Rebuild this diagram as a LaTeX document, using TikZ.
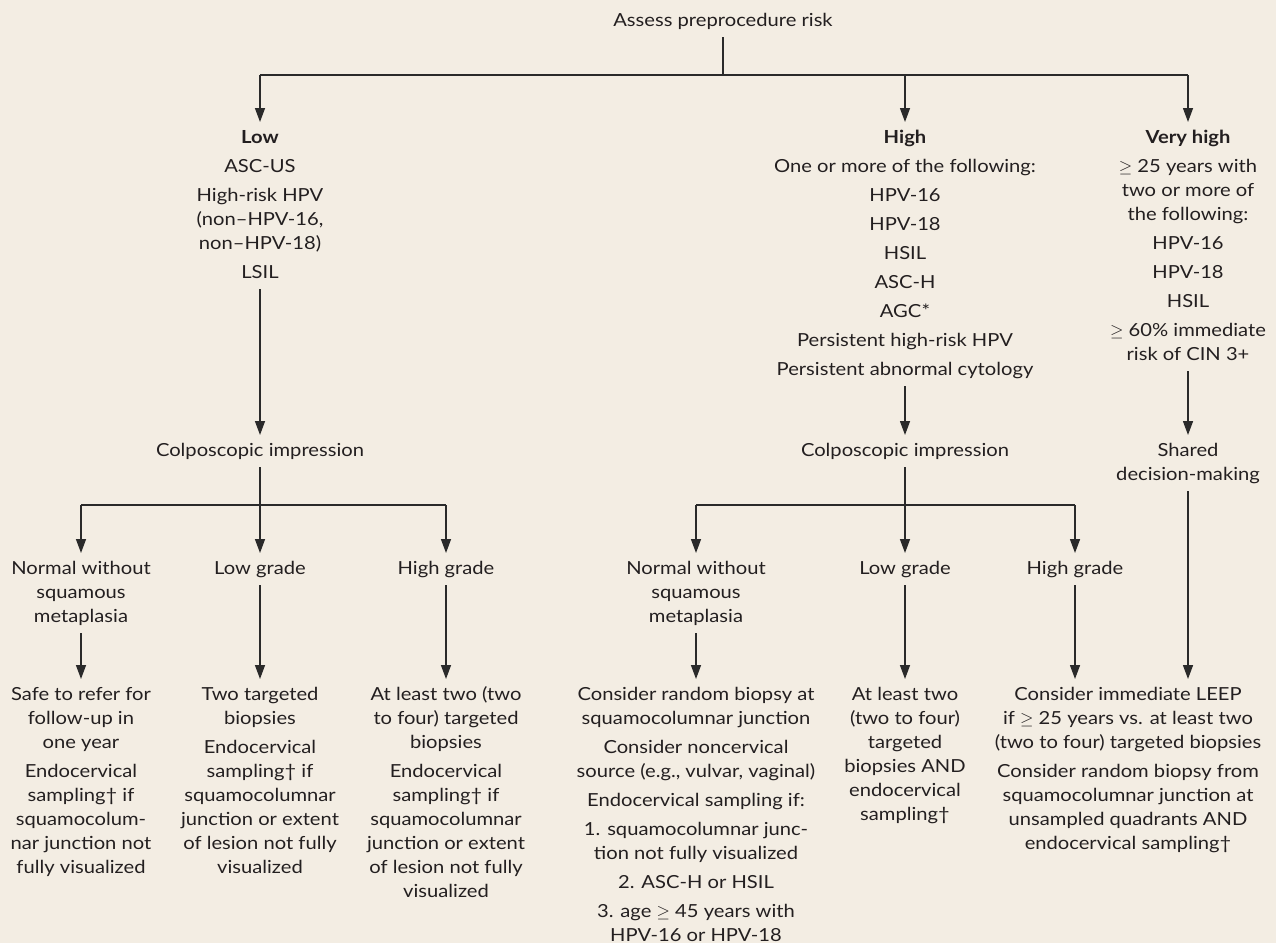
\documentclass[tikz,border=0pt]{standalone}
\usepackage{fontspec}
\setmainfont{Lato}[FakeStretch=1.12]
\usetikzlibrary{arrows.meta}
\definecolor{bg}{HTML}{F3EDE3}
\definecolor{ink}{HTML}{231F20}
\definecolor{wire}{HTML}{2A2A2A}
\begin{document}
\begin{tikzpicture}[x=1pt,y=-1pt,
  txt/.style={anchor=north,align=center,inner xsep=0pt,inner ysep=4pt,text=ink,
    font=\fontsize{18}{24}\selectfont},
  wirel/.style={draw=wire,line width=1.4pt},
  arr/.style={wirel,-{Triangle[length=14pt,width=10pt]}}]
\fill[bg] (0,0) rectangle (1276,943);
\useasboundingbox (0,0) rectangle (1276,943);
% top
\node[txt] (risk) at (723,5) {\strut Assess preprocedure risk\strut};
\coordinate (j0) at (723,75);
% risk levels
\node[txt] (low) at (260,122) {\strut\textbf{Low}\\[5pt]ASC-US\\[5pt]High-risk HPV\\(non–HPV-16,\\non–HPV-18)\\[5pt]LSIL\strut};
\node[txt] (high) at (905,122) {\strut\textbf{High}\\[5pt]One or more of the following:\\[5pt]HPV-16\\[5pt]HPV-18\\[5pt]HSIL\\[5pt]ASC-H\\[5pt]AGC*\\[5pt]Persistent high-risk HPV\\[5pt]Persistent abnormal cytology\strut};
\node[txt] (vhigh) at (1188,122) {\strut\textbf{Very high}\\[5pt]$\geq$ 25 years with\\two or more of\\the following:\\[5pt]HPV-16\\[5pt]HPV-18\\[5pt]HSIL\\[5pt]$\geq$ 60\% immediate\\risk of CIN 3+\strut};
% second level
\node[txt] (colpo1) at (260,435) {\strut Colposcopic impression\strut};
\node[txt] (colpo2) at (905,435) {\strut Colposcopic impression\strut};
\node[txt] (shared) at (1188,435) {\strut Shared\\decision-making\strut};
\coordinate (b1) at (260,505);
\coordinate (b2) at (905,505);
% third level
\node[txt] (norm1) at (81,553) {\strut Normal without\\squamous\\metaplasia\strut};
\node[txt] (lg1) at (260,553) {\strut Low grade\strut};
\node[txt] (hg1) at (446,553) {\strut High grade\strut};
\node[txt] (norm2) at (696,553) {\strut Normal without\\squamous\\metaplasia\strut};
\node[txt] (lg2) at (905,553) {\strut Low grade\strut};
\node[txt] (hg2) at (1075,553) {\strut High grade\strut};
% results
\node[txt] (res1) at (81,679) {\strut Safe to refer for\\follow-up in\\one year\\[5pt]Endocervical\\sampling† if\\squamocolum-\\nar junction not\\fully visualized\strut};
\node[txt] (res2) at (260,679) {\strut Two targeted\\biopsies\\[5pt]Endocervical\\sampling† if\\squamocolumnar\\junction or extent\\of lesion not fully\\visualized\strut};
\node[txt] (res3) at (446,679) {\strut At least two (two\\to four) targeted\\biopsies\\[5pt]Endocervical\\sampling† if\\squamocolumnar\\junction or extent\\of lesion not fully\\visualized\strut};
\node[txt] (res4) at (696,679) {\strut Consider random biopsy at\\squamocolumnar junction\\[5pt]Consider noncervical\\source (e.g., vulvar, vaginal)\\[5pt]Endocervical sampling if:\\[5pt]1. squamocolumnar junc-\\tion not fully visualized\\[5pt]2. ASC-H or HSIL\\[5pt]3. age $\geq$ 45 years with\\HPV-16 or HPV-18\strut};
\node[txt] (res5) at (905,679) {\strut At least two\\(two to four)\\targeted\\biopsies AND\\endocervical\\sampling†\strut};
\node[txt] (res6) at (1128,679) {\strut Consider immediate LEEP\\if $\geq$ 25 years vs. at least two\\(two to four) targeted biopsies\\[5pt]Consider random biopsy from\\squamocolumnar junction at\\unsampled quadrants AND\\endocervical sampling†\strut};
% connectors: top
\draw[wirel] (risk.south -| j0) -- (j0);
\draw[wirel] (low.north |- j0) -- (vhigh.north |- j0);
\draw[arr] (low.north |- j0) -- (low.north);
\draw[arr] (high.north |- j0) -- (high.north);
\draw[arr] (vhigh.north |- j0) -- (vhigh.north);
% to second level
\draw[arr] (low.south) -- (colpo1.north);
\draw[arr] (high.south) -- (colpo2.north);
\draw[arr] (vhigh.south) -- (shared.north);
% low branch
\draw[wirel] (norm1.north |- b1) -- (hg1.north |- b1);
\draw[arr] (colpo1.south) -- (lg1.north);
\draw[arr] (norm1.north |- b1) -- (norm1.north);
\draw[arr] (hg1.north |- b1) -- (hg1.north);
\draw[arr] (norm1.south) -- (res1.north);
\draw[arr] (lg1.south) -- (res2.north);
\draw[arr] (hg1.south) -- (res3.north);
% high branch
\draw[wirel] (norm2.north |- b2) -- (hg2.north |- b2);
\draw[arr] (colpo2.south) -- (lg2.north);
\draw[arr] (norm2.north |- b2) -- (norm2.north);
\draw[arr] (hg2.north |- b2) -- (hg2.north);
\draw[arr] (norm2.south) -- (res4.north);
\draw[arr] (lg2.south) -- (res5.north);
\draw[arr] (hg2.south) -- (hg2.south |- res6.north);
\draw[arr] (shared.south) -- (shared.south |- res6.north);
\end{tikzpicture}
\end{document}
